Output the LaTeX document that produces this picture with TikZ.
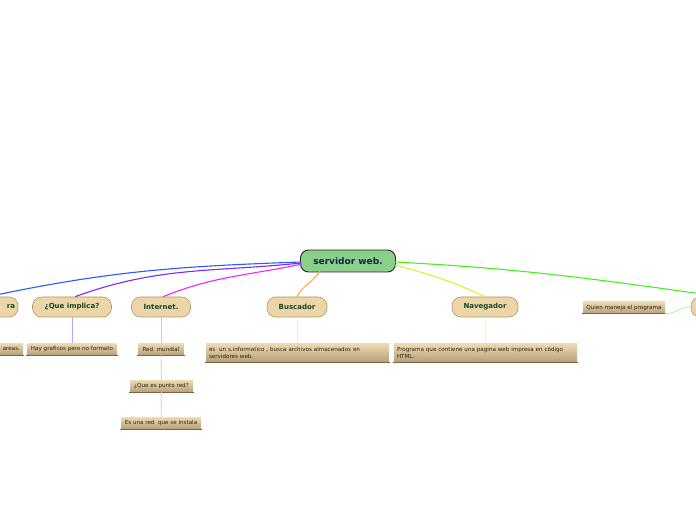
\documentclass[tikz,border=0pt]{standalone}
\usepackage{fontspec}
\setmainfont{DejaVu Sans}
\usepackage{xcolor}
\usetikzlibrary{positioning,calc}

\definecolor{rootfill}{RGB}{138,208,138}
\definecolor{roottext}{RGB}{15,35,70}
\definecolor{topicfill}{RGB}{236,214,168}
\definecolor{topicdraw}{RGB}{176,150,100}
\definecolor{topictext}{RGB}{20,70,40}
\definecolor{leaftop}{RGB}{238,220,178}
\definecolor{leafbot}{RGB}{182,160,120}
\definecolor{leafline}{RGB}{120,100,70}
\definecolor{leaftext}{RGB}{45,35,20}
\definecolor{cblue}{RGB}{40,90,255}
\definecolor{cviolet}{RGB}{125,40,245}
\definecolor{cmagenta}{RGB}{240,40,240}
\definecolor{corange}{RGB}{255,175,70}
\definecolor{cyellow}{RGB}{220,240,50}
\definecolor{cgreen}{RGB}{70,240,30}

\begin{document}
\begin{tikzpicture}[
    x=1pt, y=1pt,
    root/.style={draw=black!85, line width=0.9pt, fill=rootfill, rounded corners=8pt,
        minimum width=95pt, minimum height=22pt, text=roottext,
        font=\fontsize{9}{10.8}\selectfont\bfseries},
    topic/.style={draw=topicdraw, line width=0.6pt, fill=topicfill, rounded corners=9pt,
        minimum height=20pt, inner sep=1pt, text=topictext,
        font=\fontsize{7}{8.4}\selectfont\bfseries},
    leaf/.style={top color=leaftop, bottom color=leafbot, minimum height=12pt,
        inner xsep=3pt, inner ysep=1pt, text=leaftext,
        font=\fontsize{5.6}{7}\selectfont},
    link/.style={line width=1.1pt},
    sublink/.style={line width=0.7pt},
]
\useasboundingbox (0,0) rectangle (696,520);

% =====================================================================
% central idea and first level topics
% =====================================================================
\node[root] (web) at (348,259) {servidor web.};

\node[topic, minimum width=60pt, text width=54pt, align=right] (lft) at (-12,213) {ra};
\node[topic, minimum width=79pt] (impl) at (72,213) {¿Que implica?};
\node[topic, minimum width=59pt] (inet) at (161,213) {Internet.};
\node[topic, minimum width=60pt] (busc) at (297,213) {Buscador};
\node[topic, minimum width=66pt] (nav) at (485,213) {Navegador};
\node[topic, minimum width=60pt] (rgt) at (721,213) {};

% =====================================================================
% leaves
% =====================================================================
\node[leaf, minimum width=60pt, text width=54pt, align=right] (lftleaf) at (-7,171) {areas.};
\node[leaf, minimum width=89pt] (graf) at (72,171) {Hay graficos pero no formato};
\node[leaf, minimum width=45pt] (red) at (161,171) {Red\ \ mundial};
\node[leaf, minimum width=63pt] (punto) at (161.5,134) {¿Que es punto red?};
\node[leaf, minimum width=80pt] (instala) at (161,97) {Es una red\ \ que se instala};
\node[leaf, text width=177pt, align=left, minimum height=19pt] (buscleaf) at (297.5,167.5)
    {es\ \ un s.informatico , busca archivos almacenados en\\servidores web.};
\node[leaf, text width=177pt, align=left, minimum height=19pt] (navleaf) at (485.5,167.5)
    {Programa que contiene una pagina web impresa en código\\HTML.};
\node[leaf, minimum width=82pt] (quien) at (624,212.5) {Quien maneja el programa};

% darker rule under each leaf
\foreach \n in {lftleaf,graf,red,punto,instala,buscleaf,navleaf,quien} {
    \draw[leafline, line width=0.8pt] ($(\n.south west)+(-1,0)$) -- ($(\n.south east)+(1,0)$);
}

% =====================================================================
% connectors
% =====================================================================
\draw[link, cblue] ($(web.west)+(1,-1)$) to[out=182, in=12] (lft.north);
\draw[link, cviolet] ($(web.west)+(1,-2)$) to[out=186, in=20] ($(impl.north)+(3,0)$);
\draw[link, cmagenta] ($(web.west)+(2,-3)$) to[out=192, in=22] ($(inet.north)+(2,0)$);
\draw[link, corange] ($(web.south west)+(20,1)$) to[out=235, in=62] (busc.north);
\draw[link, cyellow] ($(web.east)+(-1,-4)$) to[out=-15, in=155] (nav.north);
\draw[link, cgreen] ($(web.east)+(-1,-1)$) to[out=-3, in=172] (rgt.north);

\draw[sublink, cviolet!45!white] (impl) -- (graf);
\draw[sublink, cmagenta!40!white] (inet) -- (red);
\draw[sublink, cmagenta!40!white] (red) -- (punto);
\draw[sublink, cmagenta!40!white] (punto) -- (instala);
\draw[sublink, corange!50!white] (busc) -- (buscleaf);
\draw[sublink, cyellow!50!white] (nav) -- (navleaf);
\draw[sublink, cgreen!50!white] (quien.south east) to[out=0, in=180] (rgt.west);

\end{tikzpicture}
\end{document}
